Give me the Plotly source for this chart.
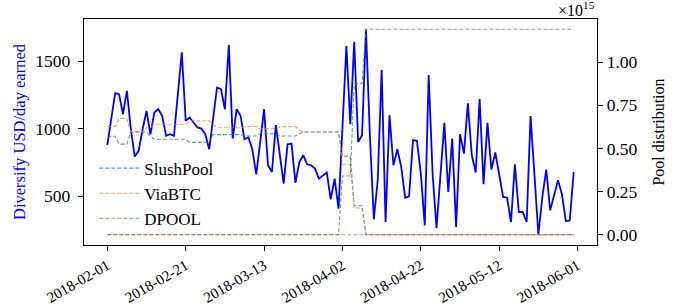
import numpy as np
import pandas as pd
import plotly.graph_objects as go

# ---------------- data ----------------
start_date = "2018-02-01"
n_days = 120
dates = pd.date_range(start_date, periods=n_days, freq="D")

usd_per_day = [
    878, 1070, 1263, 1255, 1107, 1280, 996, 794, 836, 996,
    1132, 959, 1120, 1144, 1095, 947, 959, 947, 1250, 1564,
    1058, 1083, 1046, 1009, 1001, 959, 848, 1095, 1305, 1293,
    1144, 1619, 927, 1144, 1095, 922, 935, 848, 663, 898,
    1144, 730, 680, 1026, 791, 594, 885, 890, 599, 754,
    804, 737, 730, 705, 631, 656, 676, 478, 631, 409,
    1000, 1611, 1033, 1643, 902, 952, 1735, 950, 330, 619,
    1433, 310, 1100, 730, 848, 717, 490, 500, 915, 910,
    668, 285, 1396, 668, 265, 640, 1043, 532, 927, 273,
    959, 816, 1187, 804, 676, 1219, 589, 1043, 698, 824,
    668, 495, 490, 310, 737, 384, 384, 310, 1093, 668,
    216, 495, 698, 396, 507, 619, 515, 317, 322, 680,
]

# pool distribution, in units of 1e15
pool_scale = 1e15
slushpool = ([0.57] * 3 + [0.525] * 3 + [0.595] * 5 + [0.57] + [0.553] * 9 + [0.535] * 6
             + [0.58] * 8 + [0.572] * 4 + [0.585] * 5 + [0.572] * 5 + [0.585]
             + [0.595] * 10 + [0.455] * 3 + [0.168] * 3 + [0.0] * 54)
viabtc = ([0.627] * 3 + [0.673] * 3 + [0.597] * 4 + [0.62] * 2 + [0.64] * 9 + [0.66] * 6
          + [0.64] + [0.62] * 7 + [0.627] * 4 + [0.614] * 5 + [0.626] * 5 + [0.605]
          + [0.595] * 10 + [0.408] * 3 + [0.155] * 3 + [0.0] * 54)
dpool = [0.0] * 60 + [0.34] * 3 + [0.875] * 3 + [1.19] * 54
other_pool = [0.0] * 120

pool_names = ["SlushPool", "ViaBTC", "DPOOL"]
pool_colors = ["#1f77b4", "#ff7f0e", "#2ca02c", "#d62728"]

right_ticks = [0.0, 0.25, 0.5, 0.75, 1.0, 1.25]
tick_days = 20

# ---------------- figure ----------------
font_family = "Liberation Serif, DejaVu Serif, serif"

fig = go.Figure()
fig.add_trace(go.Scatter(
    x=dates, y=usd_per_day, mode="lines",
    line=dict(color="#0000ff", width=1.8),
    showlegend=False, yaxis="y",
))

series = [slushpool, viabtc, dpool]
for name, vals, col in zip(pool_names, series, pool_colors):
    fig.add_trace(go.Scatter(
        x=dates, y=np.array(vals) * pool_scale, mode="lines", name=name,
        line=dict(color=col, width=1.1, dash="4px,2px"), opacity=0.75,
        yaxis="y2",
    ))
fig.add_trace(go.Scatter(
    x=dates, y=np.array(other_pool) * pool_scale, mode="lines", name="other",
    line=dict(color=pool_colors[3], width=1.1, dash="4px,2px"), opacity=0.55,
    yaxis="y2", showlegend=False,
))

# matplotlib-style 5% margins
span = dates[-1] - dates[0]
x_range = [dates[0] - 0.05 * span, dates[-1] + 0.05 * span]
lo, hi = min(usd_per_day), max(usd_per_day)
y_range = [lo - 0.05 * (hi - lo), hi + 0.05 * (hi - lo)]
pmax = max(max(slushpool), max(viabtc), max(dpool)) * pool_scale
y2_range = [-0.05 * pmax, 1.05 * pmax]

tick_font = dict(family=font_family, size=17.5, color="black")

fig.update_layout(
    width=685, height=307,
    margin=dict(l=84, r=88, t=19, b=62),
    paper_bgcolor="white", plot_bgcolor="white",
    font=dict(family=font_family, size=15, color="black"),
    xaxis=dict(
        range=x_range, type="date",
        tick0=start_date, dtick=tick_days * 86400000, tickformat="%Y-%m-%d",
        tickangle=-30, ticks="outside", ticklen=5, tickcolor="black",
        showline=True, linecolor="black", linewidth=1.3, mirror=True,
        showgrid=False, zeroline=False,
        tickfont=dict(family=font_family, size=15, color="black"),
        automargin=False,
    ),
    yaxis=dict(
        range=y_range, tickvals=[500, 1000, 1500],
        ticks="outside", ticklen=5, tickcolor="black",
        showline=True, linecolor="black", linewidth=1.3,
        showgrid=False, zeroline=False, tickfont=tick_font,
        ticklabelstandoff=4,
        title=dict(text="Diversify USD/day earned",
                   font=dict(family=font_family, color="#0000ff", size=16.5), standoff=5),
        automargin=False,
    ),
    yaxis2=dict(
        range=y2_range, overlaying="y", side="right",
        tickvals=[t * pool_scale for t in right_ticks],
        ticktext=[f"{t:.2f}" for t in right_ticks],
        ticks="outside", ticklen=5, tickcolor="black",
        showline=True, linecolor="black", linewidth=1.3,
        showgrid=False, zeroline=False, tickfont=tick_font,
        title=dict(text="Pool distribution", font=dict(family=font_family, size=16), standoff=16),
        automargin=False,
    ),
    legend=dict(
        x=0.02, y=0.418, xanchor="left", yanchor="top",
        bgcolor="rgba(0,0,0,0)", font=dict(family=font_family, size=17),
        itemwidth=40,
    ),
    annotations=[dict(
        text="×10<sup>15</sup>", xref="paper", yref="paper",
        x=1.0, y=0.992, xanchor="right", yanchor="bottom",
        showarrow=False, font=dict(family=font_family, size=16),
    )],
)

fig.write_html("out.html", config={"displayModeBar": False},
               post_script="document.body.style.margin='0px';")
